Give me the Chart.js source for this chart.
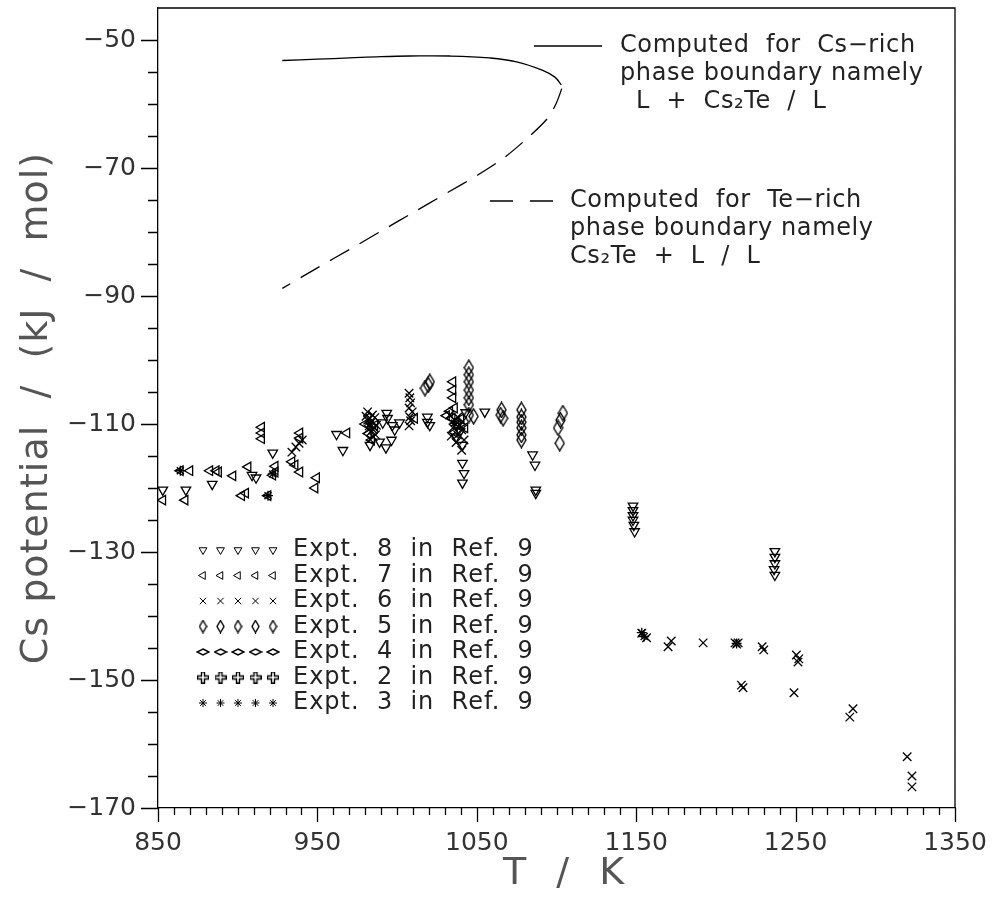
<!DOCTYPE html>
<html><head><meta charset="utf-8">
<script src="https://cdn.jsdelivr.net/npm/chart.js@4/dist/chart.umd.min.js"></script>
<style>html,body{margin:0;padding:0;background:#fff}#wrap{width:996px;height:899px}</style>
</head><body><div id="wrap"><canvas id="c" width="996" height="899"></canvas></div>
<script>
// ---- tick labels & titles ----
const xTickLabels = ['850','950','1050','1150','1250','1350'];
const yTickLabels = ['\u221250','\u221270','\u221290','\u2212110','\u2212130','\u2212150','\u2212170'];
const xTitle = 'T  /  K';
const yTitle = 'Cs potential  /  (kJ  /  mol)';

// ---- computed phase boundaries ----
const csRichT = [928, 950, 970, 990, 1008, 1033, 1058, 1075, 1091, 1099, 1103];
const csRichV = [-53.2, -53.0, -52.8, -52.6, -52.5, -52.5, -52.8, -53.4, -54.7, -55.8, -57.0];
const teRichT = [1103.3, 1100, 1094.5, 1083.2, 1067.6, 1050.6, 1030.6, 1010.5, 990.4, 970.4, 950, 928];
const teRichV = [-57.6, -59.8, -62.2, -65.0, -68.3, -71.1, -74.0, -76.9, -79.8, -82.7, -85.6, -88.8];

// ---- experimental points (Ref. 9) ----
const expt8T = [853,867.5,884,909,911.5,922,962,966,983,993.5,994,997,998.5,991,989,993,996.5,1001.5,1019,1019,1020.5,1039.5,1041,1041,1042,1041,1055,1085,1086.5,1087,1087,1148,1148,1148,1148,1148.5,1149,1237,1237,1237,1236.5,1237,1043,1037];
const expt8V = [-120.3,-120.3,-119.4,-118.0,-118.4,-114.5,-111.6,-114.1,-113.3,-108.3,-109.1,-110.2,-110.9,-109.8,-112.8,-113.7,-112.5,-109.8,-108.9,-109.7,-110.2,-111.2,-113.3,-116.1,-117.7,-119.2,-108.1,-114.8,-116.4,-120.3,-120.8,-122.8,-123.5,-124.3,-125.0,-125.8,-126.8,-129.9,-130.8,-131.8,-132.7,-133.6,-108.2,-112.0];

const expt7T = [853,867,864,870,882.5,886.5,888,897,906.5,915,915,915,922,923.5,923.5,902.5,905,919,939,939,934,936,939,949.5,948.5,968.5,984,986,980,982,1011,1035,1035,1035,1036,1034.5,1038,1042.5,1033,1037,1031,1040,1036];
const expt7V = [-121.9,-121.9,-117.3,-117.3,-117.3,-117.3,-117.5,-118.1,-116.7,-110.5,-111.4,-112.3,-118.0,-117.5,-116.6,-121.2,-120.8,-121.2,-111.4,-112.2,-115.9,-116.4,-117.5,-118.4,-120.0,-111.4,-112.5,-110.2,-110.0,-111.5,-109.1,-103.4,-104.7,-105.9,-107.5,-109.1,-110.2,-110.6,-108.0,-109.7,-108.7,-109.2,-111.3];

const expt6T = [934,936.5,938.5,940.5,981.5,983,984,982.5,985.5,983.5,986.5,985,981.5,987,980.5,982,984.5,986,983,985,1007.5,1008,1008.5,1007.5,1009.5,1008,1008.5,1007.5,1033,1036,1039.5,1040.5,1038,1042,1040.5,1035,1038,1041,1034,1037,1153.5,1156.5,1172,1170,1192,1212,1213,1214,1229,1230,1250.5,1252,1251.5,1216,1217,1249,1286,1284,1320,1323,1323];
const expt6V = [-114.4,-113.6,-113.0,-112.5,-108.1,-109.1,-109.7,-110.3,-110.6,-111.2,-111.7,-112.0,-109.4,-110.2,-108.8,-110.8,-108.6,-109.0,-112.4,-110.9,-105.2,-105.9,-106.7,-107.5,-108.1,-108.9,-109.5,-110.3,-108.6,-109.4,-110.2,-110.9,-111.7,-112.5,-114.1,-110.6,-108.9,-109.6,-111.9,-112.9,-142.7,-143.4,-143.9,-144.8,-144.2,-144.2,-144.4,-144.2,-144.8,-145.3,-146.1,-146.7,-147.2,-150.8,-151.2,-152.0,-154.5,-155.8,-162.0,-165.0,-166.7];

const expt5T = [1017.5,1019.5,1020.5,1045,1045,1045,1045,1045,1045,1045,1048,1065.5,1065,1066.5,1078,1078,1078,1078,1078,1078,1104,1102.5,1101,1102];
const expt5V = [-104.4,-103.9,-103.4,-101.2,-102.3,-103.4,-104.7,-105.9,-107.0,-108.6,-108.8,-107.8,-108.6,-109.1,-107.8,-108.9,-109.7,-110.6,-111.7,-112.5,-108.3,-109.4,-110.6,-113.0];

const expt4T = [];
const expt4V = [];
const expt2T = [];
const expt2V = [];
const expt3T = [864,922,919,983,1036,1153.5,1155,1213];
const expt3V = [-117.3,-117.8,-121.2,-110.0,-109.9,-142.6,-143.2,-144.3];

const legendLabels = ['Expt.  8  in  Ref.  9','Expt.  7  in  Ref.  9','Expt.  6  in  Ref.  9','Expt.  5  in  Ref.  9','Expt.  4  in  Ref.  9','Expt.  2  in  Ref.  9','Expt.  3  in  Ref.  9'];

// ---- helpers ----
const pts = (xs, ys) => xs.map((x, i) => ({x, y: ys[i]}));
function shapeCanvas(w, h, path) {
  const c = document.createElement('canvas');
  c.width = w; c.height = h;
  const g = c.getContext('2d');
  g.strokeStyle = '#000'; g.lineWidth = 1.4;
  g.beginPath(); path(g, w, h); g.closePath(); g.stroke();
  return c;
}
const diamondPath = (g, w, h) => { g.moveTo(w / 2, 1); g.lineTo(w - 1, h / 2); g.lineTo(w / 2, h - 1); g.lineTo(1, h / 2); };
const plusPath = (g, w, h) => {
  const a = Math.round(w * 0.34) + 0.5, b = Math.round(w * 0.66) - 0.5, e = w - 0.5, s = 0.5;
  g.moveTo(a, s); g.lineTo(b, s); g.lineTo(b, a); g.lineTo(e, a); g.lineTo(e, b); g.lineTo(b, b);
  g.lineTo(b, e); g.lineTo(a, e); g.lineTo(a, b); g.lineTo(s, b); g.lineTo(s, a); g.lineTo(a, a);
};
const tallDiamond = shapeCanvas(11, 17, diamondPath);
const tallDiamondSm = shapeCanvas(9, 14, diamondPath);
const wideDiamond = shapeCanvas(17, 10, diamondPath);
const wideDiamondSm = shapeCanvas(14, 8, diamondPath);
const openPlus = shapeCanvas(13, 13, plusPath);
const openPlusSm = shapeCanvas(12, 12, plusPath);
const legendStyles = [null, null, null, tallDiamondSm, wideDiamondSm, openPlusSm, null];

const FONT = "'DejaVu Sans', sans-serif";
const mk = (label, data, style, rot, r) => ({
  label, data, showLine: false, pointStyle: style, rotation: rot, pointRotation: rot,
  pointRadius: r, pointHoverRadius: r, pointBorderColor: '#000', pointBackgroundColor: 'rgba(0,0,0,0)',
  pointBorderWidth: 1.3, borderColor: '#000', backgroundColor: 'rgba(0,0,0,0)'
});

const datasets = [
  {label: 'Cs-rich', data: pts(csRichT, csRichV), showLine: true, pointRadius: 0, borderColor: '#000', borderWidth: 1.3, tension: 0.4, fill: false},
  {label: 'Te-rich', data: pts(teRichT, teRichV), showLine: true, pointRadius: 0, borderColor: '#000', borderWidth: 1.3, tension: 0.3, borderDash: [22, 12], fill: false},
  mk(legendLabels[0], pts(expt8T, expt8V), 'triangle', 180, 5.5),
  mk(legendLabels[1], pts(expt7T, expt7V), 'triangle', 270, 5.5),
  mk(legendLabels[2], pts(expt6T, expt6V), 'crossRot', 0, 6),
  mk(legendLabels[3], pts(expt5T, expt5V), tallDiamond, 0, 6),
  mk(legendLabels[4], pts(expt4T, expt4V), wideDiamond, 0, 6),
  mk(legendLabels[5], pts(expt2T, expt2V), openPlus, 0, 6),
  mk(legendLabels[6], pts(expt3T, expt3V), 'star', 0, 5)
];

const framePlugin = {
  id: 'frame',
  afterDraw(chart) {
    const {ctx, chartArea: a, scales: {x, y}} = chart;
    ctx.save();
    ctx.strokeStyle = '#000'; ctx.lineWidth = 1.3;
    ctx.beginPath();
    ctx.moveTo(a.left, a.top); ctx.lineTo(a.right, a.top); ctx.lineTo(a.right, a.bottom);
    x.ticks.forEach(t => {
      const px = Math.round(x.getPixelForValue(t.value)) + 0.5;
      const L = (Math.round(t.value - 850) % 100 === 0) ? 14 : 7;
      ctx.moveTo(px, a.bottom); ctx.lineTo(px, a.bottom + L);
    });
    y.ticks.forEach(t => {
      if (t.value > -50) return;
      const py = Math.round(y.getPixelForValue(t.value)) + 0.5;
      const L = (Math.round(t.value + 170) % 20 === 0) ? 17 : 10;
      ctx.moveTo(a.left, py); ctx.lineTo(a.left - L, py);
    });
    ctx.stroke();

    // axis titles
    ctx.fillStyle = '#555'; ctx.textBaseline = 'middle'; ctx.textAlign = 'center';
    ctx.font = "38px " + FONT; ctx.letterSpacing = '2px';
    ctx.fillText(xTitle, (a.left + a.right) / 2 + 8, 874);
    ctx.save();
    ctx.translate(37, (a.top + a.bottom) / 2);
    ctx.rotate(-Math.PI / 2);
    ctx.font = "38px " + FONT; ctx.letterSpacing = '1px';
    ctx.fillText(yTitle, 0, 0);
    ctx.restore();

    // top-right annotations
    ctx.fillStyle = '#222'; ctx.font = "24px " + FONT; ctx.textAlign = 'left'; ctx.letterSpacing = '0.6px';
    ctx.lineWidth = 1.3;
    ctx.beginPath(); ctx.moveTo(534, 46); ctx.lineTo(602, 46); ctx.stroke();
    ctx.fillText('Computed  for  Cs\u2212rich', 620, 46);
    ctx.fillText('phase boundary namely', 620, 74);
    ctx.fillText('L  +  Cs\u2082Te  /  L', 636, 102);
    ctx.beginPath(); ctx.moveTo(490, 201); ctx.lineTo(513, 201); ctx.moveTo(530, 201); ctx.lineTo(553, 201); ctx.stroke();
    ctx.fillText('Computed  for  Te\u2212rich', 570, 201);
    ctx.fillText('phase boundary namely', 570, 229);
    ctx.fillText('Cs\u2082Te  +  L  /  L', 570, 257);

    // bottom-left legend of experiments
    ctx.font = "24px " + FONT; ctx.letterSpacing = '1px';
    for (let i = 0; i < 7; i++) {
      const ds = chart.data.datasets[i + 2];
      const yy = 550 + i * 25.5;
      const st = legendStyles[i] || ds.pointStyle;
      for (let k = 0; k < 5; k++) {
        ctx.strokeStyle = '#000'; ctx.fillStyle = 'rgba(0,0,0,0)'; ctx.lineWidth = 1;
        Chart.helpers.drawPoint(ctx, {pointStyle: st, rotation: ds.rotation, radius: st === 'star' ? 4 : 4.5, borderWidth: 1}, 203 + k * 17.5, yy);
      }
      ctx.fillStyle = '#222';
      ctx.fillText(ds.label, 293, yy);
    }
    ctx.restore();
  }
};

new Chart(document.getElementById('c'), {
  type: 'scatter',
  data: {datasets},
  options: {
    responsive: false, animation: false, devicePixelRatio: 1,
    layout: {padding: {top: 8, right: 41, left: 0, bottom: 0}},
    plugins: {legend: {display: false}, tooltip: {enabled: false}},
    elements: {point: {hitRadius: 0}},
    scales: {
      x: {
        type: 'linear', min: 850, max: 1350,
        afterFit(s) { s.height = 91; s.paddingLeft = 0; s.paddingRight = 0; },
        grid: {display: false, drawTicks: true, tickLength: 14},
        border: {display: true, color: '#000', width: 1.3},
        ticks: {stepSize: 10, autoSkip: false, maxRotation: 0, padding: 6, color: '#333',
          font: {family: FONT, size: 25},
          callback: (v) => { const r = Math.round(v - 850); return r % 100 === 0 ? xTickLabels[r / 100] : ''; }},
        title: {display: false}
      },
      y: {
        type: 'linear', min: -170, max: -45,
        afterFit(s) { s.width = 158; s.paddingTop = 0; s.paddingBottom = 0; },
        grid: {display: false, drawTicks: true, tickLength: 17},
        border: {display: true, color: '#000', width: 1.3},
        ticks: {stepSize: 5, autoSkip: false, padding: 5, color: '#333',
          font: {family: FONT, size: 25},
          callback: (v) => { const r = Math.round(-50 - v); return (r >= 0 && r % 20 === 0) ? yTickLabels[r / 20] : ''; }},
        title: {display: false}
      }
    }
  },
  plugins: [framePlugin]
});
</script>
</body></html>
